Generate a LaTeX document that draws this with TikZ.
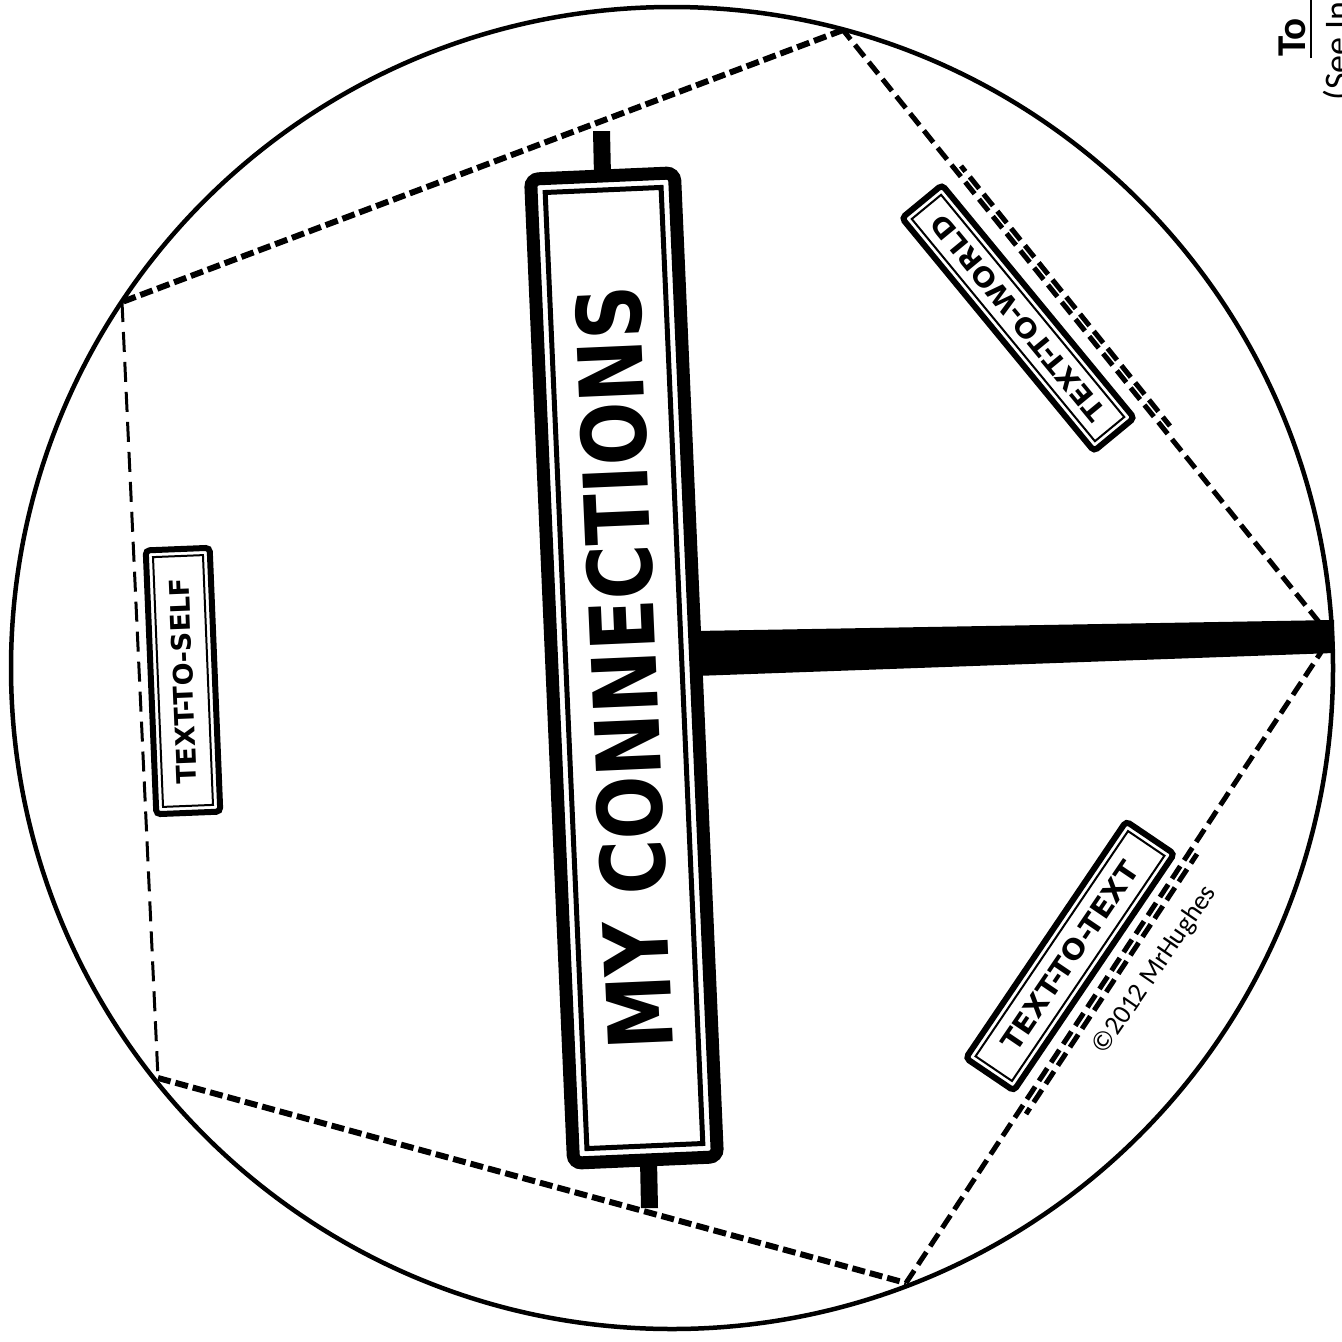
\documentclass[tikz,border=0pt]{standalone}
\usepackage{fontspec}
\setmainfont{Carlito}
\newfontfamily\heavy{DejaVu Sans}[UprightFont={* Bold}]
\newfontfamily\cali{Carlito}
\begin{document}
\begin{tikzpicture}[x=1pt,y=-1pt,
  thickdash/.style={line width=6, dash pattern=on 13 off 5},
  thindash/.style={line width=3, dash pattern=on 20 off 10},
  meddash/.style={line width=5, dash pattern=on 15 off 7},
  signout/.style={rectangle, draw, line width=13, fill=white, rounded corners=8, inner sep=0},
  signin/.style={rectangle, draw, line width=5, inner sep=0},
  lblout/.style={rectangle, draw, line width=6, fill=white, rounded corners=4, inner sep=0},
  lblin/.style={rectangle, draw, line width=2, inner sep=0},
  post/.style={fill=black}]
\useasboundingbox (0,0) rectangle (1342,1342);
\fill[white] (0,0) rectangle (1342,1342);
% pentagon vertices
\coordinate (c) at (672,668);
\coordinate (v0) at (1331,637);
\coordinate (v1) at (843,30);
\coordinate (v2) at (122,302);
\coordinate (v3) at (158,1078);
\coordinate (v4) at (906,1283);
% dashed fold lines
\draw[thickdash] (v1) -- (v2);
\draw[thindash] (v2) -- (v3);
\draw[thickdash] (v3) -- (v4);
\draw[meddash] (v4) -- (v0) -- (v1);
\coordinate (w1) at (961,166);
\coordinate (w2) at (1170,426);
\draw[meddash, dash phase=8] (w1) -- (w2);
\coordinate (t1) at (1026,1114);
\coordinate (t2) at (1197,854);
\draw[meddash, dash phase=8] (t1) -- (t2);
% horizontal bar
\fill (695,631) -- (1334,620) -- (1334,653) -- (695,676) -- cycle;
% circle
\draw[line width=4.5] (c) circle[radius=661];
% posts
\fill[post] (593,131) -- (610,131) -- (611,176) -- (594,176) -- cycle;
\fill[post] (640,1160) -- (657,1160) -- (658,1208) -- (641,1208) -- cycle;
% central sign
\node[signout, minimum width=985, minimum height=144, rotate=92.5] (sign) at (624,668) {};
\node[signin, minimum width=957, minimum height=116, rotate=92.5] (signin) at (sign.center)
  {\resizebox{765pt}{66pt}{\heavy MY CONNECTIONS}};
% labels
\node[lblout, minimum width=264, minimum height=64, rotate=92.3] (self) at (183,681) {};
\node[lblin, minimum width=250, minimum height=50, rotate=92.3] (selfin) at (self.center)
  {\resizebox{206pt}{20pt}{\heavy TEXT-TO-SELF}};
\node[lblout, minimum width=302, minimum height=52, rotate=129.5] (world) at (1018,318) {};
\node[lblin, minimum width=288, minimum height=38, rotate=129.5] (worldin) at (world.center)
  {\resizebox{258pt}{20pt}{\heavy TEXT-TO-WORLD}};
\node[lblout, minimum width=286, minimum height=58, rotate=55.9] (ttt) at (1070,956) {};
\node[lblin, minimum width=272, minimum height=44, rotate=55.9] (tttin) at (ttt.center)
  {\resizebox{222pt}{21pt}{\heavy TEXT-TO-TEXT}};
% copyright
\node[rotate=55.5, inner sep=0, font=\cali\fontsize{27}{30}\selectfont] (copy) at (1155,970) {©2012 MrHughes};
% top-right header
\node[rotate=90, anchor=base west, inner sep=0, font=\cali\bfseries\fontsize{41}{45}\selectfont] (to) at (1305,57) {To};
\draw[line width=2.5] (1311,58) -- (1311,-3);
\node[rotate=90, anchor=base west, inner sep=0, font=\cali\fontsize{36}{40}\selectfont] (see) at (1349,101) {(See In};
\end{tikzpicture}
\end{document}
